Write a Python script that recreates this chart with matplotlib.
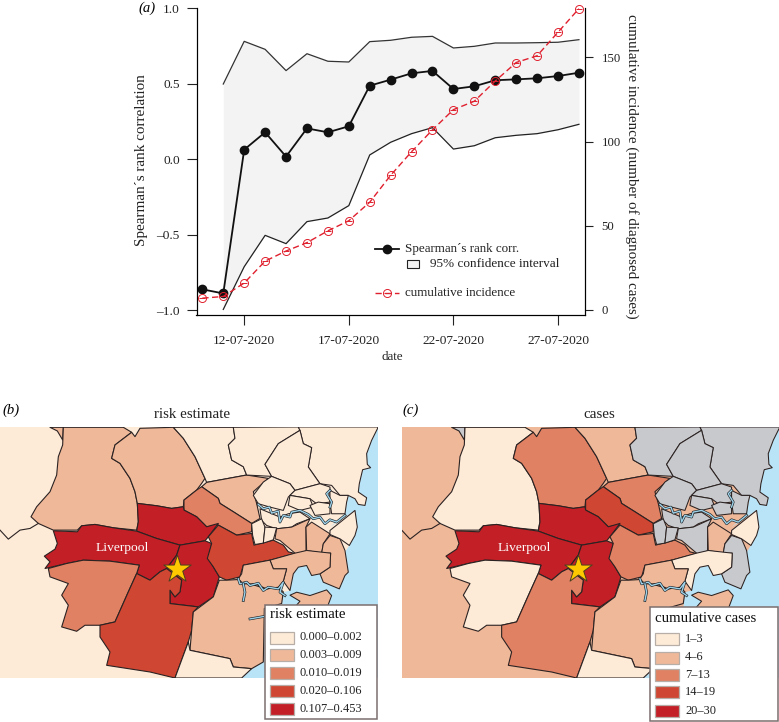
import matplotlib
matplotlib.use("Agg")
import matplotlib.pyplot as plt
from matplotlib.lines import Line2D
from matplotlib.patches import Polygon, Rectangle

plt.rcParams['font.family'] = ['Liberation Serif', 'DejaVu Serif']

W, H = 779, 722

# panel a
days = list(range(10, 29))
spearman = [-0.863, -0.89, 0.063, 0.178, 0.017, 0.204, 0.178, 0.218, 0.487, 0.527,
            0.569, 0.585, 0.465, 0.483, 0.523, 0.529, 0.536, 0.551, 0.573]
ci_days = days[1:]
ci_upper = [0.498, 0.781, 0.728, 0.587, 0.699, 0.649, 0.644, 0.779, 0.788, 0.808,
            0.814, 0.737, 0.748, 0.770, 0.770, 0.772, 0.775, 0.792]
ci_lower = [-0.996, -0.713, -0.505, -0.56, -0.414, -0.39, -0.308, 0.028, 0.112, 0.169,
            0.209, 0.067, 0.089, 0.142, 0.158, 0.169, 0.195, 0.231]
cumulative = [7, 8, 16, 29, 35, 40, 47, 53, 64, 80, 94, 107, 119, 124, 136, 147, 151, 165, 179]
date_ticks = [12, 17, 22, 27]
date_labels = ['12-07-2020', '17-07-2020', '22-07-2020', '27-07-2020']
left_ticks = [-1.0, -0.5, 0.0, 0.5, 1.0]
left_labels = ['\u20131.0', '\u20130.5', '0.0', '0.5', '1.0']
right_ticks = [0, 50, 100, 150]

# map outlines, same shapes in b and c
west_regions = {
    'topsliver': [(150, 97), (190, 97), (188, 135), (172, 108)],
    'northwest': [(190, 97), (188, 150), (175, 185), (170, 240), (150, 290), (110, 335), (93, 365),
                  (115, 385), (160, 405), (232, 405), (245, 392), (285, 388), (340, 398), (410, 405),
                  (415, 380), (412, 325), (405, 290), (390, 250), (360, 205), (335, 190), (345, 150),
                  (395, 112), (370, 97)],
    'north': [(395, 112), (405, 125), (420, 100), (520, 97), (550, 130), (585, 185), (615, 250),
              (605, 265), (590, 285), (552, 315), (550, 335), (515, 340), (470, 332), (412, 325),
              (405, 290), (390, 250), (360, 205), (335, 190), (345, 150)],
    'northeast': [(520, 97), (700, 97), (705, 130), (685, 150), (695, 195), (730, 215), (740, 240),
                  (620, 262), (615, 250), (585, 185), (550, 130)],
    'bilpin': [(620, 262), (740, 240), (805, 250), (760, 290), (770, 325), (780, 370), (755, 385),
               (700, 350), (660, 325), (655, 310), (605, 275)],
    'strip': [(605, 275), (655, 310), (660, 325), (700, 350), (755, 385), (755, 410), (710, 420),
              (655, 390), (620, 395), (590, 365), (552, 345), (552, 315), (590, 285)],
    'fairfield': [(412, 325), (470, 332), (515, 340), (550, 335), (552, 345), (590, 365), (620, 395),
                  (655, 385), (625, 425), (615, 437), (540, 450), (470, 430), (410, 408), (415, 380)],
    'liverpool': [(133, 483), (165, 462), (172, 445), (160, 407), (232, 410), (245, 392), (285, 388),
                  (340, 398), (410, 408), (470, 430), (540, 450), (530, 480), (500, 520), (480, 530),
                  (450, 555), (410, 535), (418, 510), (330, 498), (250, 495), (200, 505), (135, 520),
                  (150, 500)],
    'campbelltown': [(540, 450), (615, 437), (635, 445), (625, 490), (640, 515), (658, 545), (640, 605),
                     (595, 635), (510, 625), (510, 585), (525, 605), (540, 590), (545, 555), (500, 520),
                     (530, 480)],
    'bankstown': [(655, 390), (710, 420), (755, 415), (762, 450), (820, 435), (850, 450), (865, 470),
                  (885, 475), (810, 495), (730, 510), (720, 545), (680, 555), (658, 545), (640, 515),
                  (622, 490), (635, 445), (625, 425)],
    'camden': [(145, 520), (200, 505), (250, 495), (330, 498), (418, 510), (410, 535), (385, 590),
               (345, 680), (300, 690), (255, 690), (230, 708), (185, 695), (205, 630), (185, 600),
               (205, 565), (150, 545)],
    'south': [(410, 535), (450, 555), (480, 530), (500, 520), (545, 555), (540, 590), (525, 605),
              (510, 585), (510, 625), (595, 635), (580, 650), (575, 705), (565, 740), (525, 848),
              (450, 830), (320, 810), (330, 770), (300, 725), (300, 690), (345, 680), (385, 590)],
    'sutherland': [(658, 555), (680, 555), (715, 553), (750, 566), (800, 581), (835, 576), (850, 590),
                   (845, 625), (793, 640), (790, 800), (755, 820), (700, 815), (690, 790), (570, 765),
                   (575, 705), (580, 650), (640, 605)],
    'southcream': [(570, 765), (690, 790), (700, 815), (755, 820), (725, 848), (525, 848), (565, 740)],
}
east_shift = (690, 96)
east_regions = {
    'hills1': [(10, 1), (205, 0), (210, 10), (145, 50), (105, 112), (125, 148), (50, 144), (40, 119),
               (5, 99), (-5, 54), (15, 34)],
    'hills2': [(205, 0), (445, 0), (425, 40), (410, 80), (412, 112), (422, 122), (398, 128), (388, 170),
               (385, 195), (410, 212), (405, 235), (385, 232), (375, 215), (355, 205), (330, 205),
               (305, 175), (270, 170), (235, 120), (245, 62), (220, 50), (210, 10)],
    'hillsc': [(210, 10), (220, 50), (245, 62), (235, 120), (270, 170), (195, 190), (180, 170),
               (125, 148), (105, 112), (145, 50)],
    'small1': [(125, 148), (180, 170), (195, 190), (175, 210), (160, 250), (120, 240), (85, 230),
               (70, 205), (100, 165)],
    'small2': [(195, 190), (270, 170), (300, 180), (300, 225), (260, 230), (240, 215), (180, 205)],
    'small3': [(180, 205), (240, 215), (250, 240), (210, 250), (175, 235)],
    'small4': [(240, 235), (265, 225), (300, 230), (300, 260), (255, 265)],
    'small5': [(300, 190), (330, 205), (355, 205), (350, 225), (345, 260), (305, 260), (300, 225)],
    'pa0': [(90, 245), (150, 270), (175, 260), (210, 255), (240, 275), (200, 290), (185, 300),
            (140, 305), (110, 295), (95, 280)],
    'pa1': [(65, 290), (95, 275), (105, 300), (100, 348), (75, 352), (68, 325)],
    'pa2': [(105, 300), (140, 302), (135, 320), (130, 338), (100, 348)],
    'innerwest': [(140, 305), (185, 300), (240, 275), (228, 300), (228, 370), (200, 390), (195, 378),
                  (150, 340), (135, 335)],
    'central': [(228, 300), (245, 285), (300, 320), (280, 350), (275, 378), (230, 370)],
    'eastern': [(300, 325), (330, 335), (345, 370), (355, 435), (345, 445), (328, 485), (280, 465),
                (270, 440), (300, 420), (302, 378), (275, 378), (280, 350)],
    'coast': [(300, 310), (375, 250), (382, 300), (375, 325), (358, 355), (330, 335), (300, 322)],
    'bay': [(120, 399), (195, 378), (230, 370), (302, 378), (300, 420), (270, 440), (245, 445),
            (230, 415), (205, 420), (190, 440), (180, 490), (160, 462), (170, 425), (130, 425)],
    'georges': [(40, 414), (120, 399), (130, 425), (170, 425), (160, 462), (145, 480), (110, 485),
                (75, 470), (40, 470), (25, 455), (35, 440)],
    'bayside': [(180, 504), (200, 495), (240, 505), (290, 488), (305, 505), (290, 545), (190, 545),
                (210, 522)],
}
sea_east = [(445, 0), (425, 40), (410, 80), (412, 112), (422, 122), (398, 128), (388, 170), (385, 195),
            (410, 212), (405, 235), (385, 232), (375, 215), (355, 205), (345, 260), (300, 300),
            (375, 250), (382, 300), (375, 325), (358, 355), (345, 375), (355, 435), (345, 445),
            (328, 485), (280, 465), (270, 440), (245, 445), (230, 415), (205, 420), (190, 440),
            (180, 490), (160, 495), (155, 545), (105, 545), (100, 705), (65, 725), (35, 752),
            (445, 752)]
river1 = [(85, 232), (100, 245), (118, 240), (125, 258), (145, 252), (150, 285), (160, 265), (180, 270),
          (185, 255), (210, 250), (235, 262), (250, 275), (270, 270), (285, 290), (300, 278), (320, 285),
          (345, 265)]
river1_b = [(300, 190), (290, 200), (305, 225), (300, 240)]
river2 = [(25, 455), (30, 470), (50, 465), (60, 475), (85, 468), (100, 490), (115, 480), (145, 485),
          (160, 465), (150, 495), (165, 505)]
river2_b = [(40, 470), (45, 495), (40, 520)]
river3 = [(60, 575), (100, 568)]
star_xy = (530, 520)
label_xy = (368, 460)
boundary_line = [(0, 405), (25, 432), (60, 405), (90, 400), (115, 385)]

palette = ['#fdebd8', '#efb899', '#e08163', '#cf4632', '#c21f26', '#c8c9cc']
# class of each region in the two maps, 5 = no cases
risk_class = {'topsliver': 1, 'northwest': 1, 'north': 1, 'northeast': 0, 'hills1': 0, 'hills2': 0, 'hillsc': 0,
              'small1': 0, 'small2': 0, 'small3': 0, 'small4': 0, 'small5': 0, 'pa0': 0, 'pa1': 0, 'pa2': 0,
              'bilpin': 1, 'strip': 2, 'fairfield': 4, 'liverpool': 4, 'campbelltown': 4, 'bankstown': 3,
              'camden': 2, 'south': 3, 'sutherland': 1, 'bayside': 1, 'southcream': 0, 'georges': 1, 'bay': 1,
              'eastern': 1, 'central': 1, 'innerwest': 1, 'coast': 0}
case_class = {'topsliver': 5, 'northwest': 0, 'north': 2, 'northeast': 1, 'hills1': 5, 'hills2': 5, 'hillsc': 5,
              'small1': 5, 'small2': 5, 'small3': 5, 'small4': 5, 'small5': 5, 'pa0': 5, 'pa1': 5, 'pa2': 5,
              'bilpin': 2, 'strip': 3, 'fairfield': 4, 'liverpool': 4, 'campbelltown': 4, 'bankstown': 2,
              'camden': 0, 'south': 2, 'sutherland': 1, 'bayside': 1, 'southcream': 0, 'georges': 1, 'bay': 0,
              'eastern': 5, 'central': 1, 'innerwest': 5, 'coast': 0}
risk_labels = ['0.000\u20130.002', '0.003\u20130.009', '0.010\u20130.019', '0.020\u20130.106', '0.107\u20130.453']
case_labels = ['1\u20133', '4\u20136', '7\u201313', '14\u201319', '20\u201330']


def fx(x):
    return x / W


def fy(y):
    return 1 - y / H


def put_axes(fig, x0, y0, x1, y1):
    return fig.add_axes([fx(x0), fy(y1), (x1 - x0) / W, (y1 - y0) / H])


def shift(pts):
    return [(x + east_shift[0], y + east_shift[1]) for x, y in pts]


def draw_map(ax, classes, land):
    ax.add_patch(Rectangle((0, 97), 1135, 751, fc=palette[land], ec='none'))
    ax.add_patch(Polygon(shift(sea_east), fc='#b9e3f6', ec='none'))
    for name, pts in west_regions.items():
        ax.add_patch(Polygon(pts, fc=palette[classes[name]], ec='#2b2222', lw=0.8, joinstyle='round'))
    for name, pts in east_regions.items():
        ax.add_patch(Polygon(shift(pts), fc=palette[classes[name]], ec='#2b2222', lw=0.75, joinstyle='round'))
    xs, ys = zip(*boundary_line)
    ax.plot(xs, ys, color='#2b2222', lw=0.8)
    for river in (river1, river1_b, river2, river2_b, river3):
        xs, ys = zip(*shift(river))
        ax.plot(xs, ys, color='#1c2226', lw=1.9)
        ax.plot(xs, ys, color='#9fd3ea', lw=1.0)
    ax.scatter([star_xy[0]], [star_xy[1]], marker='*', s=430, c='#fdc800', edgecolors='#4a4020',
               linewidths=0.7, zorder=5)
    ax.text(label_xy[0], label_xy[1], 'Liverpool', color='white', fontsize=9.7, ha='center', va='center')
    ax.set_xlim(0, 1135)
    ax.set_ylim(848, 97)
    ax.axis('off')


def draw_key(fig, box, title, labels, patch_x, label_x, title_pos, rows):
    x0, y0, x1, y1 = box
    fig.add_artist(Rectangle((fx(x0), fy(y1)), (x1 - x0) / W, (y1 - y0) / H, transform=fig.transFigure,
                             fc='white', ec='#7c6f6f', lw=1.1, zorder=10))
    fig.text(fx(title_pos[0]), fy(title_pos[1]), title, fontsize=10.7, color='#111111', va='center', zorder=11)
    for i, lab in enumerate(labels):
        fig.add_artist(Rectangle((fx(patch_x), fy(rows[i] + 12)), 24.3 / W, 12 / H, transform=fig.transFigure,
                                 fc=palette[i], ec='#b8aea8', lw=0.9, zorder=11))
        fig.text(fx(label_x), fy(rows[i] + 6), lab, fontsize=8.9, color='#222222', va='center', zorder=11)


fig = plt.figure(figsize=(W / 100, H / 100), dpi=100)

# (a)
ax = put_axes(fig, 196.5, 8.3, 585, 315)
ax.fill_between(ci_days, ci_lower, ci_upper, color='#f3f3f3', lw=0)
ax.plot(ci_days, ci_upper, color='#333333', lw=0.9)
ax.plot(ci_days, ci_lower, color='#222222', lw=0.9)
ax.plot(days, spearman, color='#111111', lw=1.3, marker='o', ms=6, clip_on=False, zorder=4)
ax.set_xlim(9.72, 28.29)
ax.set_ylim(-1.033, 1.0)
ax.set_xticks(date_ticks)
ax.set_xticklabels(date_labels, fontsize=9.6)
ax.set_yticks(left_ticks)
ax.set_yticklabels(left_labels, fontsize=9.6)
ax.tick_params(axis='x', length=7.2, width=0.8, pad=7, color='#222222', labelcolor='#222222')
ax.tick_params(axis='y', length=7.2, width=0.8, pad=4.8, color='#222222', labelcolor='#222222')
ax.spines['top'].set_visible(False)

ax2 = ax.twinx()
ax2.plot(days, cumulative, color='#e0202e', lw=1.0, ls=(0, (4.5, 2.5)), marker='o', ms=5.8, mfc='none',
         mew=0.7, clip_on=False, zorder=3)
for d, c in zip(days, cumulative):
    ax2.plot(d, c, marker='_', ms=4, mew=0.7, color='#e0202e', clip_on=False, zorder=3)
ax2.set_ylim(-3, 179.2)
ax2.set_yticks(right_ticks)
ax2.tick_params(axis='y', length=6, width=0.8, pad=6, labelsize=9.2, color='#222222', labelcolor='#222222')
ax2.spines['top'].set_visible(False)

fig.text(fx(138), fy(8), '(a)', style='italic', fontsize=10.5, va='center', ha='left')
fig.text(fx(142), fy(160), 'Spearman\u00b4s rank correlation', rotation=90, fontsize=10.9, ha='center', va='center', color='#222222')
fig.text(fx(632), fy(166), 'cumulative incidence (number of diagnosed cases)', rotation=270, fontsize=10.8, ha='center', va='center', color='#222222')
fig.text(fx(392), fy(357), 'date', fontsize=9.4, ha='center', va='center', color='#222222')

# legend of (a)
fig.add_artist(Line2D([fx(375), fx(387), fx(399)], [fy(249)] * 3, color='#111111', lw=1.3, marker='o', ms=6,
                      markevery=[1], transform=fig.transFigure))
fig.add_artist(Rectangle((fx(407), fy(267.5)), 11.5 / W, 7.5 / H, transform=fig.transFigure, fc='#f3f3f3', ec='#222222', lw=0.8))
fig.add_artist(Line2D([fx(375), fx(387), fx(399)], [fy(292.5)] * 3, color='#e0202e', lw=1.0, ls=(0, (4.5, 2.5)),
                      marker='o', ms=5.8, mfc='none', mew=0.7, markevery=[1], transform=fig.transFigure))
fig.add_artist(Line2D([fx(387)], [fy(292.5)], color='#e0202e', marker='_', ms=4, mew=0.7, transform=fig.transFigure))
fig.text(fx(405), fy(249), 'Spearman\u00b4s rank corr.', fontsize=9.4, va='center', color='#222222')
fig.text(fx(430), fy(264), '95% confidence interval', fontsize=9.5, va='center', color='#222222')
fig.text(fx(405), fy(292.5), 'cumulative incidence', fontsize=9.4, va='center', color='#222222')

# (b)
ax_b = put_axes(fig, 0, 427.3, 378.3, 678)
draw_map(ax_b, risk_class, 0)
fig.text(fx(2), fy(410), '(b)', style='italic', fontsize=10.5, va='center')
fig.text(fx(192), fy(414), 'risk estimate', fontsize=10.8, ha='center', va='center', color='#222222')
draw_key(fig, (264.5, 604.5, 376.5, 719), 'risk estimate', risk_labels, 270, 300, (269.5, 615), [631.5, 649, 666.5, 685, 703])

# (c)
ax_c = put_axes(fig, 401.67, 427.3, 779.9, 678)
draw_map(ax_c, case_class, 1)
fig.text(fx(402), fy(410), '(c)', style='italic', fontsize=10.5, va='center')
fig.text(fx(599), fy(414), 'cases', fontsize=10.8, ha='center', va='center', color='#222222')
draw_key(fig, (649.5, 606.5, 778, 720.5), 'cumulative cases', case_labels, 654.5, 685, (655, 618), [633, 651.5, 668.5, 686, 704.5])

fig.savefig('out.png', dpi=100)
